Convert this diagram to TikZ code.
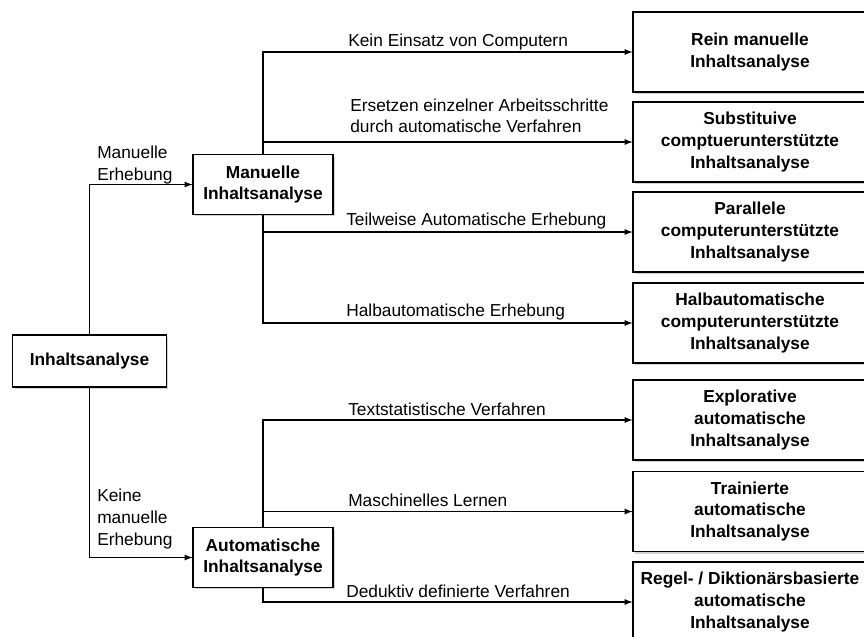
\documentclass[tikz,border=0pt]{standalone}
\usepackage{fontspec}
\setmainfont{Liberation Sans}
\usetikzlibrary{shadows}

\begin{document}
\begin{tikzpicture}[x=0.75pt,y=-0.75pt,
        every node/.style={font=\fontsize{13}{16.2}\selectfont},
        box/.style={draw, line width=0.8pt, fill=white, align=center, inner sep=0pt,
            font=\fontsize{13}{16.2}\selectfont\bfseries,
            drop shadow={shadow xshift=1.6pt, shadow yshift=-1.6pt, opacity=0.35}},
        outbox/.style={box, minimum width=175.5pt, minimum height=60pt},
        midbox/.style={box, minimum width=105pt, minimum height=44.5pt},
        lbl/.style={anchor=west, inner sep=0pt, align=left},
        conn/.style={line width=1pt, -latex}]
        \clip (0,0) rectangle (864,636);

        % Wurzel
        \node[box, minimum width=115pt, minimum height=39pt] (ia) at (89.5,361) {Inhaltsanalyse};

        % zweite Ebene
        \node[midbox] (man) at (263,184.5) {Manuelle\\Inhaltsanalyse};
        \node[midbox] (aut) at (263,557.5) {Automatische\\Inhaltsanalyse};

        % Ergebnisse
        \node[outbox] (rein) at (750,52) {Rein manuelle\\Inhaltsanalyse};
        \node[outbox] (subst) at (750,142) {Substituive\\comptuerunterstützte\\Inhaltsanalyse};
        \node[outbox] (para) at (750,232) {Parallele\\computerunterstützte\\Inhaltsanalyse};
        \node[outbox] (halb) at (750,323) {Halbautomatische\\computerunterstützte\\Inhaltsanalyse};
        \node[outbox] (expl) at (750,420) {Explorative\\automatische\\Inhaltsanalyse};
        \node[outbox] (train) at (750,511.5) {Trainierte\\automatische\\Inhaltsanalyse};
        \node[outbox] (regel) at (750,602) {Regel- / Diktionärsbasierte\\automatische\\Inhaltsanalyse};

        % Verbindungen
        \draw[conn] (ia.north) |- (man.west);
        \draw[conn] (ia.south) |- (aut.west);
        \node[lbl] (lman) at (97,165) {Manuelle\\Erhebung};
        \node[lbl] (laut) at (97,519) {Keine\\manuelle\\Erhebung};

        \draw[conn] (man.north) |- (rein.west);
        \draw[conn] (man.north) |- (subst.west);
        \draw[conn] (man.south) |- (para.west);
        \draw[conn] (man.south) |- (halb.west);
        \draw[conn] (aut.north) |- (expl.west);
        \draw[conn] (aut.north) |- (train.west);
        \draw[conn] (aut.south) |- (regel.west);

        \node[lbl] (lrein) at (348,42) {Kein Einsatz von Computern};
        \node[lbl] (lsubst) at (350,116) {Ersetzen einzelner Arbeitsschritte\\durch automatische Verfahren};
        \node[lbl] (lpara) at (346,221) {Teilweise Automatische Erhebung};
        \node[lbl] (lhalb) at (346,312) {Halbautomatische Erhebung};
        \node[lbl] (lexpl) at (348,409) {Textstatistische Verfahren};
        \node[lbl] (ltrain) at (348,500) {Maschinelles Lernen};
        \node[lbl] (lregel) at (346,591) {Deduktiv definierte Verfahren};
    \end{tikzpicture}
\end{document}
